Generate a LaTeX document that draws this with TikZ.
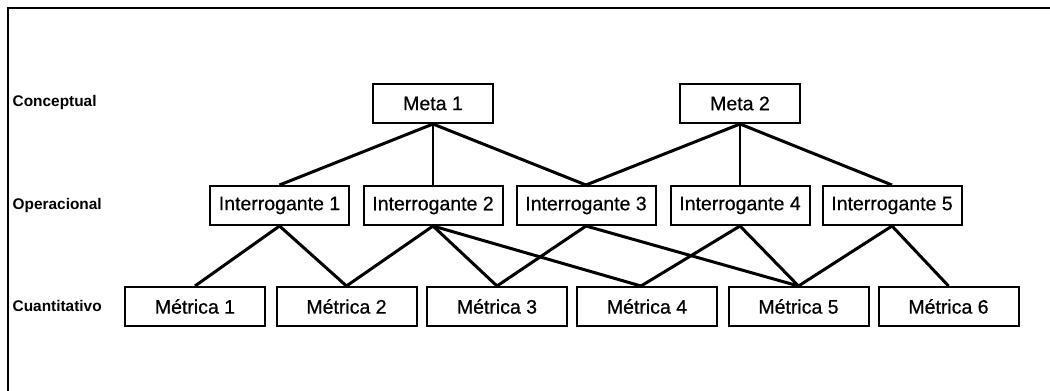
\documentclass[tikz,border=0pt]{standalone}
\usepackage{fontspec}
\setmainfont{Liberation Sans}
\newfontfamily\boxfont[FakeBold=0.6]{Liberation Sans}
\usetikzlibrary{shadows}
\tikzset{
  levelbox/.style={draw, line width=2pt, fill=white, inner sep=0pt,
    minimum height=39pt, font=\boxfont\fontsize{19.5}{22}\selectfont,
    drop shadow={shadow xshift=0pt, shadow yshift=-1.2pt, fill=black, opacity=1}},
  goalbox/.style={levelbox, minimum width=120pt},
  qbox/.style={levelbox, minimum width=139pt},
  mbox/.style={levelbox, minimum width=140pt},
  levellabel/.style={anchor=base west, inner sep=0pt,
    font=\fontsize{15.4}{18}\selectfont\bfseries},
  strong/.style={line width=3pt},
  weak/.style={line width=1.4pt}
}
\begin{document}
\begin{tikzpicture}[x=1pt, y=-1pt]
  \useasboundingbox (0,0) rectangle (1050,391);
  \fill[white] (0,0) rectangle (1050,391);
  % open frame: top and left edges
  \draw[line width=2pt] (7.7,391) -- (7.7,7.7) -- (1050,7.7);

  % level names
  \node[levellabel] (lc) at (12.5,106.7) {Conceptual};
  \node[levellabel] (lo) at (12.5,209.5) {Operacional};
  \node[levellabel] (lq) at (12.5,311.5) {Cuantitativo};

  % goals
  \node[goalbox] (g1) at (433,103.5) {Meta 1};
  \node[goalbox] (g2) at (740,103.5) {Meta 2};

  % questions
  \node[qbox] (q1) at (279.5,205.5) {Interrogante 1};
  \node[qbox] (q2) at (433,205.5) {Interrogante 2};
  \node[qbox] (q3) at (586,205.5) {Interrogante 3};
  \node[qbox] (q4) at (740,205.5) {Interrogante 4};
  \node[qbox] (q5) at (892,205.5) {Interrogante 5};

  % metrics
  \node[mbox] (m1) at (195,306.5) {Métrica 1};
  \node[mbox] (m2) at (346.5,306.5) {Métrica 2};
  \node[mbox] (m3) at (497,306.5) {Métrica 3};
  \node[mbox] (m4) at (647,306.5) {Métrica 4};
  \node[mbox] (m5) at (798.5,306.5) {Métrica 5};
  \node[mbox] (m6) at (948.5,306.5) {Métrica 6};

  % goal -> question links
  \draw[strong] (g1.south) -- (q1.north);
  \draw[weak]   (g1.south) -- (q2.north);
  \draw[strong] (g1.south) -- (q3.north);
  \draw[strong] (g2.south) -- (q3.north);
  \draw[weak]   (g2.south) -- (q4.north);
  \draw[strong] (g2.south) -- (q5.north);

  % question -> metric links
  \draw[strong] (q1.south) -- (m1.north);
  \draw[strong] (q1.south) -- (m2.north);
  \draw[strong] (q2.south) -- (m2.north);
  \draw[strong] (q2.south) -- (m3.north);
  \draw[strong] (q2.south) -- ([xshift=-6pt]m4.north);
  \draw[strong] (q3.south) -- (m3.north);
  \draw[strong] (q3.south) -- (m5.north);
  \draw[strong] (q4.south) -- ([xshift=-6pt]m4.north);
  \draw[strong] (q4.south) -- (m5.north);
  \draw[strong] (q5.south) -- (m5.north);
  \draw[strong] (q5.south) -- (m6.north);
\end{tikzpicture}
\end{document}
